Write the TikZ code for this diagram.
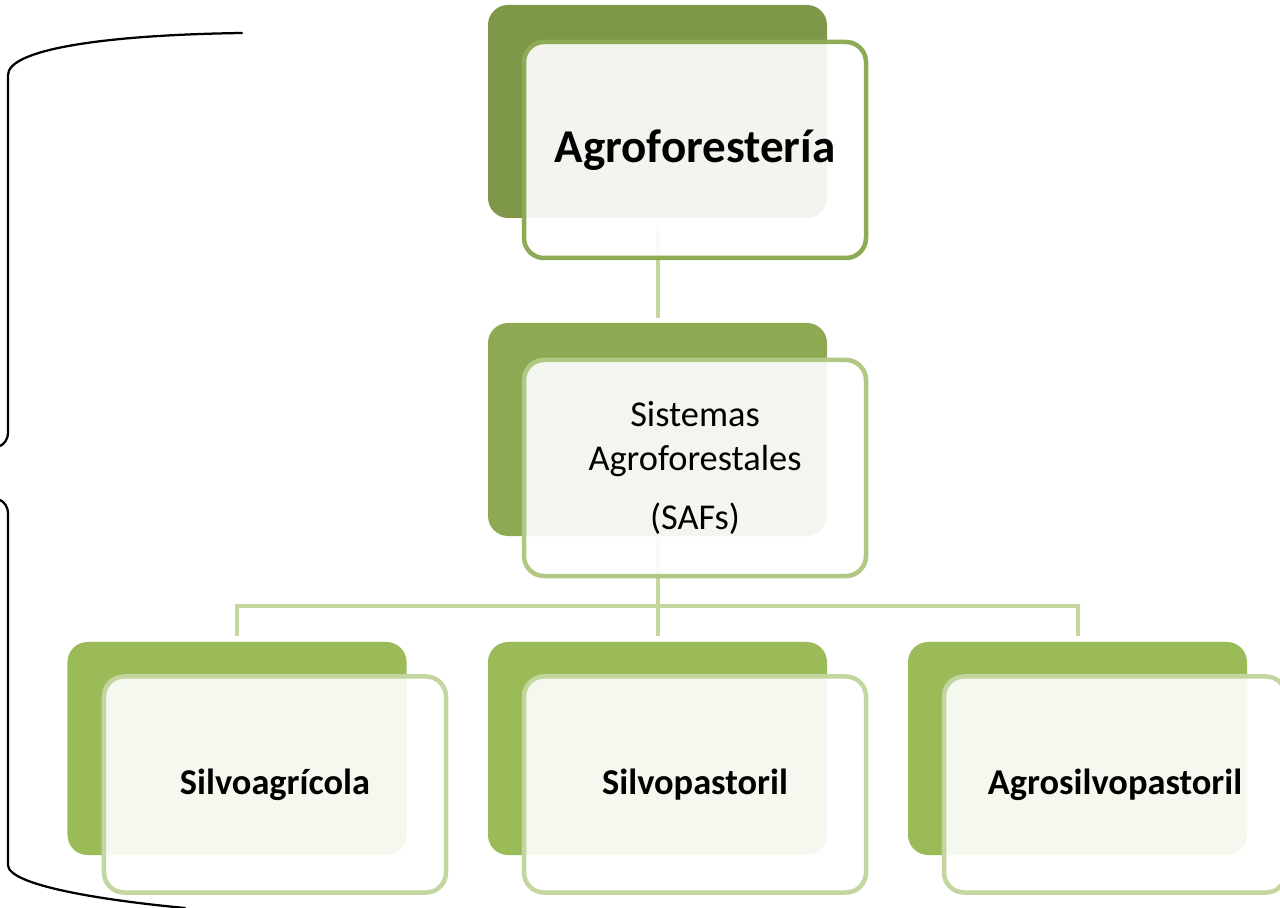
\documentclass[tikz,border=0pt]{standalone}
\usepackage{fontspec}
\setmainfont{Carlito}
\definecolor{darkolive}{HTML}{7E9749}
\definecolor{midolive}{HTML}{8DAA52}
\definecolor{lightolive}{HTML}{9BBB59}
\definecolor{topedge}{HTML}{8DAA55}
\definecolor{midedge}{HTML}{B0C884}
\definecolor{lowedge}{HTML}{C3D6A0}
\definecolor{linkgreen}{HTML}{C4D79E}

\begin{document}
\begin{tikzpicture}[x=0.2mm, y=-0.2mm,
    back/.style={fill=#1, rounded corners=4mm, minimum width=67.8mm, minimum height=42.6mm, inner sep=0pt},
    front/.style={draw=#1, line width=0.9mm, fill=white, fill opacity=0.9, text opacity=1,
      rounded corners=4mm, minimum width=68.4mm, minimum height=43.2mm, inner sep=0pt, align=center,
      font=\fontsize{20.7}{24.8}\selectfont},
    link/.style={draw=linkgreen, line width=0.8mm},
    brace/.style={line width=0.45mm, line cap=round}]
    \useasboundingbox (0,0) rectangle (1280,908);

    \node[back=darkolive] (agroBack) at (657.5,111.5) {};
    \node[back=midolive] (safBack) at (657.5,429.5) {};
    \node[back=lightolive] (silvoagBack) at (237,748.5) {};
    \node[back=lightolive] (silvopasBack) at (657.5,748.5) {};
    \node[back=lightolive] (agrosilBack) at (1077.5,748.5) {};

    \coordinate (split) at (657.5,606);
    \draw[link, shorten <=1.6mm, shorten >=1mm] (agroBack.south) -- (safBack.north);
    \draw[link] (safBack.south) -- (split);
    \draw[link, shorten >=1.2mm] (split) -| (silvoagBack.north);
    \draw[link, shorten >=1.2mm] (split) -- (silvopasBack.north);
    \draw[link, shorten >=1.2mm] (split) -| (agrosilBack.north);

    \node[front=topedge, font=\fontsize{26.8}{32}\selectfont\bfseries] (agro) at (695,150) {Agroforestería};
    \node[front=midedge] (saf) at (695,468) {Sistemas\\Agroforestales\\[9pt](SAFs)};
    \node[front=lowedge, font=\fontsize{20.7}{24.8}\selectfont\bfseries] (silvoag) at (275,784.5) {Silvoagrícola};
    \node[front=lowedge, font=\fontsize{20.7}{24.8}\selectfont\bfseries] (silvopas) at (695,784.5) {Silvopastoril};
    \node[front=lowedge, font=\fontsize{20.7}{24.8}\selectfont\bfseries] (agrosil) at (1115,784.5) {Agrosilvopastoril};

    \draw[brace] (242,33) .. controls (100,35) and (8,50) .. (8,75) -- (8,432) .. controls (8,440) and (4,444) .. (0,446);
    \draw[brace] (0,500) .. controls (4,502) and (8,506) .. (8,514) -- (8,865) .. controls (8,885) and (100,900) .. (185,908);
\end{tikzpicture}
\end{document}
